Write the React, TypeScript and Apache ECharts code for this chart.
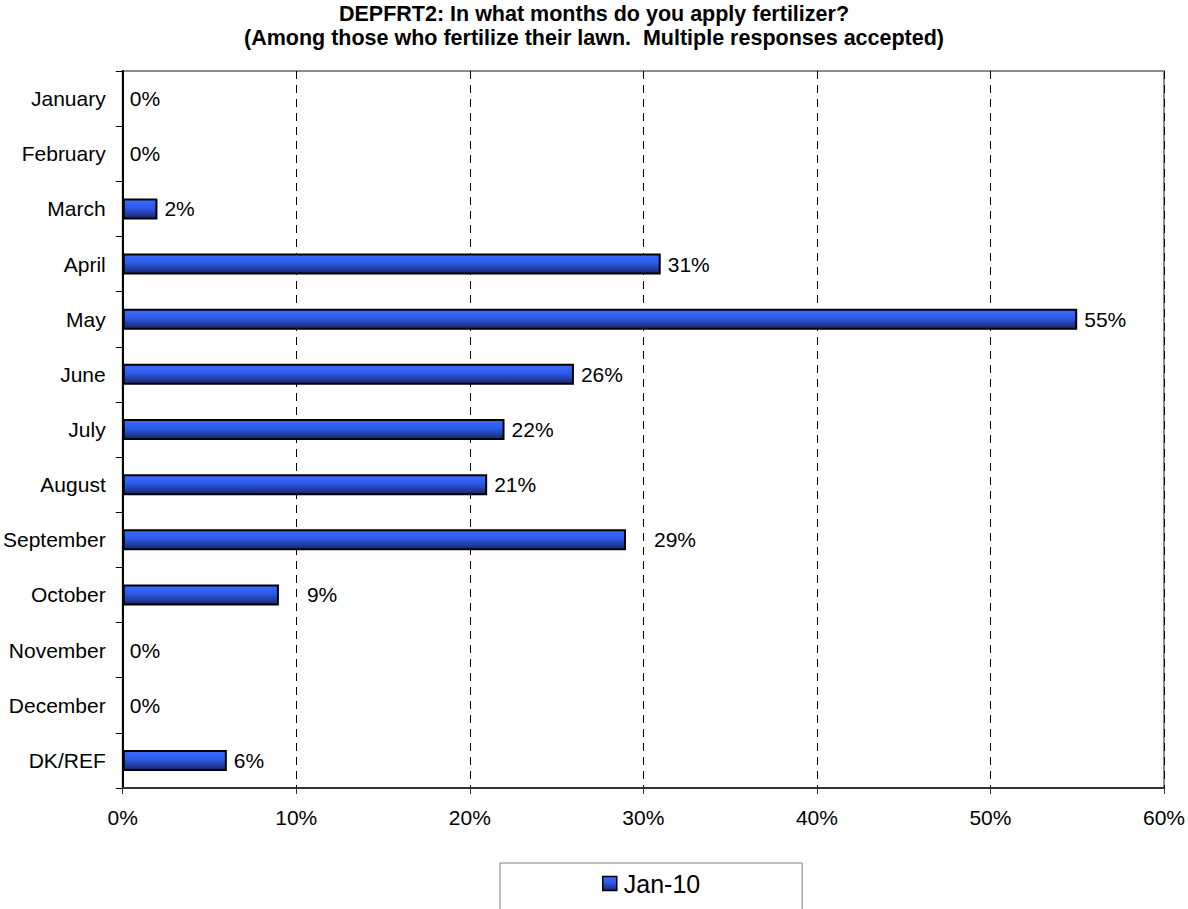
import React, { useEffect, useRef } from "react";
import * as echarts from "echarts";

const categories = [
  "January", "February", "March", "April", "May", "June", "July",
  "August", "September", "October", "November", "December", "DK/REF",
];
const values = [0, 0, 2, 31, 55, 26, 22, 21, 29, 9, 0, 0, 6];
const seriesName = "Jan-10";
const titleText =
  "DEPFRT2: In what months do you apply fertilizer?\n(Among those who fertilize their lawn.  Multiple responses accepted)";
const xTicks = { min: 0, max: 60, interval: 10 };

// style: categories whose value label sits further from the bar (as in the source)
const wideLabelCats = ["September", "October"];

const FONT = "'Liberation Sans', Arial, sans-serif";

export default function App() {
  const ref = useRef<HTMLDivElement>(null);
  useEffect(() => {
    if (!ref.current) return;
    const chart = echarts.init(ref.current, null, { renderer: "svg" });
    const barGradient = new echarts.graphic.LinearGradient(0, 0, 0, 1, [
      { offset: 0, color: "#3b6dff" },
      { offset: 0.45, color: "#2e59e8" },
      { offset: 1, color: "#17276b" },
    ]);
    chart.setOption({
      animation: false,
      backgroundColor: "#ffffff",
      textStyle: { fontFamily: FONT },
      title: {
        text: titleText,
        left: "center",
        top: 2,
        padding: 0,
        textStyle: {
          fontFamily: FONT,
          fontSize: 21.5,
          fontWeight: "bold",
          lineHeight: 24,
          color: "#000",
        },
      },
      legend: {
        data: [seriesName],
        left: 500,
        top: 863,
        padding: [8, 102, 40, 102],
        borderColor: "#808080",
        borderWidth: 1,
        backgroundColor: "#fff",
        itemWidth: 14,
        itemHeight: 14,
        itemGap: 4,
        icon: "rect",
        textStyle: { fontFamily: FONT, fontSize: 25, color: "#000", padding: [0, 0, 0, 2] },
        itemStyle: { color: barGradient, borderColor: "#000", borderWidth: 1.5 },
      },
      grid: {
        left: 122,
        right: 22,
        top: 71,
        bottom: 121,
        show: true,
        borderColor: "#8c8c8c",
        borderWidth: 2,
        backgroundColor: "#fff",
      },
      xAxis: {
        type: "value",
        min: xTicks.min,
        max: xTicks.max,
        interval: xTicks.interval,
        axisLine: { show: true, lineStyle: { color: "#333", width: 2 } },
        axisTick: { show: true, length: 6, lineStyle: { color: "#333", width: 1 } },
        axisLabel: {
          formatter: "{value}%",
          fontFamily: FONT,
          fontSize: 21,
          color: "#000",
          margin: 19,
        },
        splitLine: {
          show: true,
          lineStyle: { color: "#000", width: 1, type: [8, 6] },
        },
      },
      yAxis: {
        type: "category",
        data: categories,
        inverse: true,
        axisLine: { show: true, lineStyle: { color: "#000", width: 2 } },
        axisTick: { show: true, length: 7, lineStyle: { color: "#000", width: 1 } },
        axisLabel: {
          fontFamily: FONT,
          fontSize: 21,
          color: "#000",
          margin: 17,
        },
        splitLine: { show: false },
      },
      series: [
        {
          name: seriesName,
          type: "bar",
          barWidth: 21,
          z: 1,
          data: values.map((v, i) => ({
            value: v,
            itemStyle: v === 0 ? { borderWidth: 0 } : undefined,
            label: { distance: wideLabelCats.includes(categories[i]) ? 28 : 7 },
          })),
          itemStyle: { color: barGradient, borderColor: "#000", borderWidth: 2 },
          label: {
            show: true,
            position: "right",
            formatter: "{c}%",
            fontFamily: FONT,
            fontSize: 21,
            color: "#000",
          },
        },
      ],
    });
    return () => chart.dispose();
  }, []);
  return (
    <div
      ref={ref}
      style={{ position: "fixed", left: 0, top: 0, width: 1188, height: 909 }}
    />
  );
}
